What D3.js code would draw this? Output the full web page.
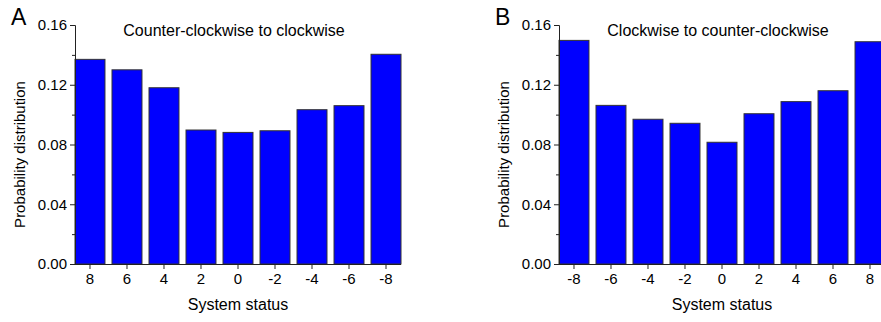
<!DOCTYPE html>
<html>
<head>
<meta charset="utf-8">
<script src="https://cdn.jsdelivr.net/npm/d3@7"></script>
<style>
  html, body { margin: 0; padding: 0; background: #fff; }
  svg { display: block; }
  text { font-family: "Liberation Sans", Arial, sans-serif; fill: #000; }
</style>
</head>
<body>
<svg id="chart" width="881" height="322"></svg>
<script>
// Probability distribution of the system status after a switch
const categoriesA = ["8", "6", "4", "2", "0", "-2", "-4", "-6", "-8"];
const valuesA = [0.137, 0.130, 0.118, 0.0897, 0.0881, 0.0892, 0.1033, 0.106, 0.1404];

const categoriesB = ["-8", "-6", "-4", "-2", "0", "2", "4", "6", "8"];
const valuesB = [0.1497, 0.1062, 0.0969, 0.0942, 0.0815, 0.1006, 0.1087, 0.116, 0.1488];

const yTicks = [0.00, 0.04, 0.08, 0.12, 0.16];
const yMinorTicks = [0.02, 0.06, 0.10, 0.14];

const panels = [
  { letter: "A", title: "Counter-clockwise to clockwise", categories: categoriesA, values: valuesA, dx: 0 },
  { letter: "B", title: "Clockwise to counter-clockwise", categories: categoriesB, values: valuesB, dx: 484 }
];

const svg = d3.select("#chart");
const plot = { left: 75, right: 401, top: 25, bottom: 264 };

panels.forEach(p => {
  const g = svg.append("g").attr("transform", `translate(${p.dx},0)`);

  const x = d3.scaleBand()
    .domain(p.categories)
    .range([plot.left, plot.right])
    .paddingInner(0.19)
    .paddingOuter(0);

  const y = d3.scaleLinear()
    .domain([0, 0.16])
    .range([plot.bottom, plot.top]);

  // bars
  g.append("g").selectAll("rect")
    .data(p.values)
    .join("rect")
    .attr("x", (d, i) => x(p.categories[i]))
    .attr("y", d => y(d))
    .attr("width", x.bandwidth())
    .attr("height", d => y(0) - y(d))
    .attr("fill", "#0000ff")
    .attr("stroke", "#333")
    .attr("stroke-width", 1);

  // y axis: major ticks with labels
  g.append("g")
    .attr("transform", `translate(${plot.left},0)`)
    .call(d3.axisLeft(y).tickValues(yTicks).tickFormat(d3.format(".2f")).tickSize(5).tickPadding(3));
  // minor ticks
  g.append("g")
    .attr("transform", `translate(${plot.left},0)`)
    .call(d3.axisLeft(y).tickValues(yMinorTicks).tickFormat("").tickSize(3))
    .select(".domain").remove();

  // x axis
  const xAxis = g.append("g")
    .attr("transform", `translate(0,${plot.bottom})`)
    .call(d3.axisBottom(x).tickSize(5).tickPadding(4).tickSizeOuter(0));
  xAxis.select(".domain").attr("d", `M${plot.left},0.5H${plot.right}`);

  svg.selectAll(".tick text").attr("font-size", 15).attr("font-family", "Liberation Sans, Arial, sans-serif").attr("fill", "#000");
  svg.selectAll(".domain, .tick line").attr("stroke", "#222");

  // panel letter
  g.append("text")
    .attr("x", 11).attr("y", 25)
    .attr("font-size", 23)
    .text(p.letter);

  // panel title
  g.append("text")
    .attr("x", 234).attr("y", 36)
    .attr("text-anchor", "middle")
    .attr("font-size", 16)
    .text(p.title);

  // axis titles
  g.append("text")
    .attr("x", 238).attr("y", 310)
    .attr("text-anchor", "middle")
    .attr("font-size", 16)
    .text("System status");

  g.append("text")
    .attr("transform", `translate(25,${(plot.top + plot.bottom) / 2 + 10}) rotate(-90)`)
    .attr("text-anchor", "middle")
    .attr("font-size", 15)
    .text("Probability distribution");
});
</script>
</body>
</html>
